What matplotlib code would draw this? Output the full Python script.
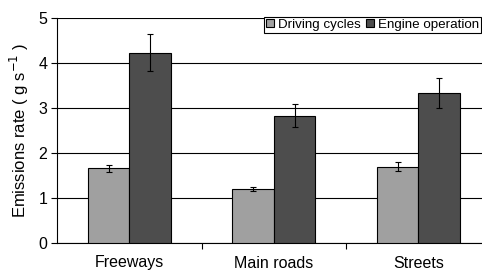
import matplotlib
matplotlib.use("Agg")
import matplotlib.pyplot as plt
import numpy as np

categories = ["Freeways", "Main roads", "Streets"]
driving = [1.66, 1.20, 1.69]
driving_err = [0.08, 0.05, 0.10]
engine = [4.23, 2.83, 3.33]
engine_err = [0.41, 0.25, 0.33]

plt.rcParams['font.family'] = ['Liberation Sans', 'DejaVu Sans']

fig = plt.figure(figsize=(4.82, 2.73), dpi=100)
ax = fig.add_axes([57/482, 30/273, 1 - 57/482, 225/273])

x = np.arange(len(categories))
w = 0.287
ax.bar(x - w/2, driving, w, color='#a0a0a0', edgecolor='black', linewidth=0.8,
       yerr=driving_err, error_kw=dict(ecolor='black', elinewidth=0.8, capsize=2, capthick=0.8),
       label='Driving cycles', zorder=3)
ax.bar(x + w/2, engine, w, color='#4d4d4d', edgecolor='black', linewidth=0.8,
       yerr=engine_err, error_kw=dict(ecolor='black', elinewidth=0.8, capsize=2, capthick=0.8),
       label='Engine operation', zorder=3)

ax.set_xlim(-0.5, 2.44)
ax.set_ylim(0, 5)
ax.set_yticks([0, 1, 2, 3, 4, 5])
ax.yaxis.grid(True, color='black', linewidth=0.8, zorder=0)
ax.set_axisbelow(True)

ax.set_xticks([0.5, 1.5])
ax.set_xticklabels([])
ax.set_xticks(x, minor=True)
ax.set_xticklabels(categories, minor=True, fontsize=11.5)
ax.tick_params(axis='x', which='minor', length=0, pad=9)
ax.tick_params(axis='x', which='major', direction='out', length=4, width=0.8)
ax.tick_params(axis='y', direction='out', length=4, width=0.8, labelsize=11.5, pad=3)

for s in ['top', 'right']:
    ax.spines[s].set_visible(False)
ax.spines['left'].set_linewidth(0.8)
ax.spines['bottom'].set_linewidth(0.8)

ax.set_ylabel('Emissions rate ( g s$^{-1}$ )', fontsize=12, labelpad=5)

leg = ax.legend(loc='upper right', bbox_to_anchor=(0.997, 1.005), ncol=2, fontsize=9.6,
                frameon=True, fancybox=False, edgecolor='black', framealpha=1,
                handlelength=0.6, handleheight=0.6, handletextpad=0.3, columnspacing=0.4,
                borderpad=0.15, borderaxespad=0.0)
leg.get_frame().set_linewidth(0.8)

fig.savefig('out.png', dpi=100)
